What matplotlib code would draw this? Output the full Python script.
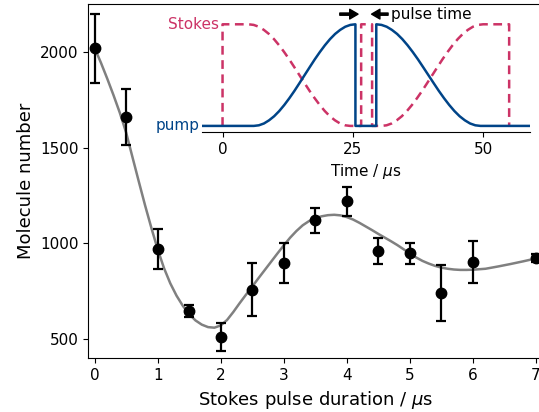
import matplotlib
matplotlib.use("Agg")
import matplotlib.pyplot as plt

# ---- main data ----
duration = [0, 0.5, 1, 1.5, 2, 2.5, 3, 3.5, 4, 4.5, 5, 5.5, 6, 7]
molecules = [2020, 1660, 972, 648, 512, 758, 897, 1122, 1220, 961, 948, 742, 904, 925]
errors = [180, 145, 103, 33, 75, 138, 103, 65, 77, 68, 54, 146, 110, 20]

# ---- fit curve ----
fit_x = [0.0, 0.1, 0.2, 0.3, 0.4, 0.5, 0.6, 0.7, 0.8, 0.9, 1.0, 1.1, 1.2, 1.3, 1.4,
         1.5, 1.6, 1.7, 1.8, 1.9, 2.0, 2.1, 2.2, 2.3, 2.4, 2.5, 2.6, 2.7, 2.8, 2.9,
         3.0, 3.1, 3.2, 3.3, 3.4, 3.5, 3.6, 3.7, 3.8, 3.9, 4.0, 4.1, 4.2, 4.3, 4.4,
         4.5, 4.6, 4.7, 4.8, 4.9, 5.0, 5.1, 5.2, 5.3, 5.4, 5.5, 5.6, 5.7, 5.8, 5.9,
         6.0, 6.2, 6.4, 6.6, 6.8, 7.0, 7.1]
fit_y = [2022, 1945, 1862, 1775, 1683, 1580, 1452, 1325, 1200, 1082, 970, 872, 792,
         727, 674, 631, 598, 576, 563, 560, 572, 600, 642, 688, 732, 775, 819, 862,
         905, 948, 990, 1030, 1065, 1095, 1117, 1132, 1142, 1148, 1150, 1147, 1138,
         1125, 1108, 1089, 1070, 1050, 1031, 1012, 992, 970, 948, 927, 909, 895, 883,
         874, 868, 864, 862, 862, 863, 868, 880, 893, 907, 922, 929]

# ---- inset pulse scheme ----
ramp_frac = [0, .05, .1, .15, .2, .25, .3, .35, .4, .45, .5, .55, .6, .65, .7, .75,
             .8, .85, .9, .95, 1]
ramp_level = [0, .006, .024, .055, .095, .146, .206, .273, .345, .422, .5, .578,
              .655, .727, .794, .854, .905, .945, .976, .994, 1]
# pump: rise 6 -> 25.5, off 25.5 -> 29.5, fall 29.5 -> 49.5
pump_rise = (6.0, 25.5)
pump_fall = (29.5, 49.5)
# stokes: on from 0, fall 5 -> 24.5, short pulse 26.6 -> 28.7, rise 30.5 -> 50, off at 55
stokes_fall = (5.0, 24.5)
stokes_pulse = (26.6, 28.7)
stokes_rise = (30.5, 50.0)
stokes_end = 55.0
time_ticks = [0, 25, 50]

blue = "#004488"
red = "#CC3366"

fig = plt.figure(figsize=(5.39, 4.12), dpi=100)
ax = fig.add_axes([0.1638, 0.1303, 0.8423, 0.8593])

ax.plot(fit_x, fit_y, color="#808080", lw=1.8, zorder=2)
ax.errorbar(duration, molecules, yerr=errors, fmt="o", color="black",
            ms=7.5, elinewidth=1.6, capsize=3.5, capthick=1.6, zorder=3,
            clip_on=False)
ax.set_xlim(-0.1, 7.1)
ax.set_ylim(400, 2250)
ax.set_xticks(range(0, 8))
ax.set_yticks([500, 1000, 1500, 2000])
ax.tick_params(labelsize=11)
ax.set_xlabel(r"Stokes pulse duration / $\mu$s", fontsize=13)
ax.set_ylabel("Molecule number", fontsize=13)

# inset
ins = fig.add_axes([0.3742, 0.6796, 0.6091, 0.3083])
ins.patch.set_alpha(0)
for s in ["top", "right", "left"]:
    ins.spines[s].set_visible(False)
ins.set_yticks([])
ins.set_xlim(-4, 59)
ins.set_ylim(-0.06, 1.19)
ins.set_xticks(time_ticks)
ins.tick_params(labelsize=11)
ins.set_xlabel(r"Time / $\mu$s", fontsize=11)


def ramp(a, b, up=True):
    t = [a + f * (b - a) for f in ramp_frac]
    v = ramp_level if up else [1 - x for x in ramp_level]
    return t, list(v)


rt, rv = ramp(*pump_rise, up=True)
ft, fv = ramp(*pump_fall, up=False)
pump_t = [-4] + rt + [pump_rise[1], pump_fall[0]] + ft + [59]
pump_v = [0] + rv + [0, 0] + fv + [0]

st_ft, st_fv = ramp(*stokes_fall, up=False)
st_rt, st_rv = ramp(*stokes_rise, up=True)
stokes_t = ([0, 0] + st_ft + [stokes_pulse[0], stokes_pulse[0], stokes_pulse[1],
            stokes_pulse[1]] + st_rt + [stokes_end, stokes_end])
stokes_v = ([0, 1] + st_fv + [0, 1, 1, 0] + st_rv + [1, 0])

ins.plot(stokes_t, stokes_v, color=red, lw=1.8, ls=(0, (3.5, 2.2)), zorder=2)
ins.plot(pump_t, pump_v, color=blue, lw=1.8, zorder=3)

ins.text(-0.6, 1.0, "Stokes", color=red, fontsize=11, ha="right", va="center")
ins.text(-4.4, 0.0, "pump", color=blue, fontsize=11, ha="right", va="center",
         clip_on=False)
arrow = dict(facecolor="black", edgecolor="black", width=1.6, headwidth=7,
             headlength=6, shrink=0)
ins.annotate("", xy=(26.0, 1.1), xytext=(22.5, 1.1), arrowprops=arrow)
ins.annotate("pulse time", xy=(28.6, 1.1), xytext=(32.3, 1.1), fontsize=11,
             va="center", ha="left", arrowprops=arrow)

fig.savefig("out.png", dpi=100)
